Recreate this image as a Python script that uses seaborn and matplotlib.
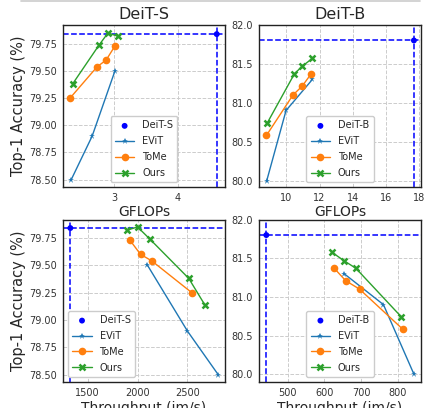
import matplotlib
matplotlib.use("Agg")
import matplotlib.pyplot as plt
from matplotlib.lines import Line2D
import seaborn as sns

sns.set_theme(style="whitegrid")
plt.rcParams['font.family'] = ['DejaVu Sans']

# DeiT-S, accuracy vs GFLOPs
s_base_gflops = [4.62]
s_base_acc = [79.84]
s_evit_gflops = [2.32, 2.65, 3.01]
s_evit_acc = [78.50, 78.90, 79.50]
s_tome_gflops = [2.30, 2.73, 2.87, 3.01]
s_tome_acc = [79.25, 79.54, 79.60, 79.73]
s_ours_gflops = [2.34, 2.76, 2.90, 3.06]
s_ours_acc = [79.38, 79.74, 79.85, 79.82]

# DeiT-S, accuracy vs throughput
s_base_thr = [1326]
s_evit_thr = [2100, 2500, 2810]
s_evit_acc_thr = [79.50, 78.90, 78.50]
s_tome_thr = [1923, 2030, 2143, 2544]
s_tome_acc_thr = [79.73, 79.60, 79.54, 79.25]
s_ours_thr = [1893, 2000, 2123, 2514, 2674]
s_ours_acc_thr = [79.82, 79.85, 79.74, 79.38, 79.14]

# DeiT-B, accuracy vs GFLOPs
b_base_gflops = [17.68]
b_base_acc = [81.80]
b_evit_gflops = [8.82, 9.98, 11.57]
b_evit_acc = [80.00, 80.90, 81.30]
b_tome_gflops = [8.80, 10.40, 10.94, 11.49]
b_tome_acc = [80.58, 81.10, 81.21, 81.37]
b_ours_gflops = [8.85, 10.48, 10.96, 11.57]
b_ours_acc = [80.74, 81.37, 81.47, 81.57]

# DeiT-B, accuracy vs throughput
b_base_thr = [442]
b_evit_thr = [654, 761, 844]
b_evit_acc_thr = [81.30, 80.90, 80.00]
b_tome_thr = [627, 658, 696, 814]
b_tome_acc_thr = [81.37, 81.21, 81.10, 80.58]
b_ours_thr = [620, 653, 686, 810]
b_ours_acc_thr = [81.58, 81.47, 81.37, 80.74]

fig, axs = plt.subplots(2, 2, figsize=(4.26, 4.08), dpi=100)
fig.subplots_adjust(left=0.148, right=0.988, top=0.939, bottom=0.064, wspace=0.21, hspace=0.2)


def draw(ax, name, bx, by, ex, ey, tx, ty, ox, oy, xlim, ylim, loc):
    ax.axhline(by[0], color="blue", linestyle="--", linewidth=1.1, zorder=1)
    ax.axvline(bx[0], color="blue", linestyle="--", linewidth=1.1, zorder=1)
    sns.scatterplot(x=bx, y=by, ax=ax, color="blue", s=18, edgecolor="none", label=name, zorder=5)
    sns.lineplot(x=ex, y=ey, ax=ax, color="tab:blue", marker="*", markersize=5, markeredgewidth=0,
                 linewidth=1, sort=False, label="EViT", zorder=3)
    sns.lineplot(x=tx, y=ty, ax=ax, color="tab:orange", marker="o", markersize=5.5, markeredgewidth=0,
                 linewidth=1, sort=False, label="ToMe", zorder=3)
    sns.lineplot(x=ox, y=oy, ax=ax, color="tab:green", marker="x", markersize=5, markeredgewidth=1.8,
                 markeredgecolor="tab:green", linewidth=1, sort=False, label="Ours", zorder=4)
    ax.set_xlim(*xlim)
    ax.set_ylim(*ylim)
    ax.grid(True, linestyle="--", linewidth=0.7, color="#cccccc")
    for sp in ax.spines.values():
        sp.set_edgecolor("#222222")
        sp.set_linewidth(1.0)
    ax.tick_params(labelsize=7, colors="#333333", length=2, pad=2.5)
    ax.legend(loc=loc, fontsize=7, frameon=True, edgecolor="#cccccc", facecolor="white",
              framealpha=1, borderpad=0.45, labelspacing=0.6, handlelength=2.0)


draw(axs[0, 0], "DeiT-S", s_base_gflops, s_base_acc, s_evit_gflops, s_evit_acc,
     s_tome_gflops, s_tome_acc, s_ours_gflops, s_ours_acc, (2.19, 4.75), (78.43, 79.925), "lower center")
draw(axs[0, 1], "DeiT-B", b_base_gflops, b_base_acc, b_evit_gflops, b_evit_acc,
     b_tome_gflops, b_tome_acc, b_ours_gflops, b_ours_acc, (8.35, 18.1), (79.915, 82.0), "lower center")
draw(axs[1, 0], "DeiT-S", s_base_thr, s_base_acc, s_evit_thr, s_evit_acc_thr,
     s_tome_thr, s_tome_acc_thr, s_ours_thr, s_ours_acc_thr, (1253, 2877), (78.435, 79.917), "lower left")
draw(axs[1, 1], "DeiT-B", b_base_thr, b_base_acc, b_evit_thr, b_evit_acc_thr,
     b_tome_thr, b_tome_acc_thr, b_ours_thr, b_ours_acc_thr, (422, 863), (79.9, 82.0), "lower center")

axs[0, 0].set_yticks([78.5, 78.75, 79.0, 79.25, 79.5, 79.75])
axs[1, 0].set_yticks([78.5, 78.75, 79.0, 79.25, 79.5, 79.75])
axs[0, 0].set_xticks([3, 4])
axs[0, 1].set_xticks([10, 12, 14, 16, 18])
axs[1, 0].set_xticks([1500, 2000, 2500])
axs[1, 1].set_xticks([500, 600, 700, 800])
for ax in axs.flat:
    ax.yaxis.set_major_formatter(matplotlib.ticker.FormatStrFormatter(
        "%.2f" if ax in (axs[0, 0], axs[1, 0]) else "%.1f"))

axs[0, 0].set_title("DeiT-S", fontsize=11.5, pad=4)
axs[0, 1].set_title("DeiT-B", fontsize=11.5, pad=4)
for ax in axs[0]:
    ax.set_xlabel("GFLOPs", fontsize=10, labelpad=1)
for ax in axs[1]:
    ax.set_xlabel("Throughput (im/s)", fontsize=10, labelpad=2)
for ax in axs[:, 0]:
    ax.set_ylabel("Top-1 Accuracy (%)", fontsize=10.5, labelpad=2)
for ax in axs[:, 1]:
    ax.set_ylabel("")

fig.add_artist(Line2D([0.05, 0.985], [0.997, 0.997], color="#cccccc", linewidth=1.2))

fig.savefig("out.png", dpi=100)
